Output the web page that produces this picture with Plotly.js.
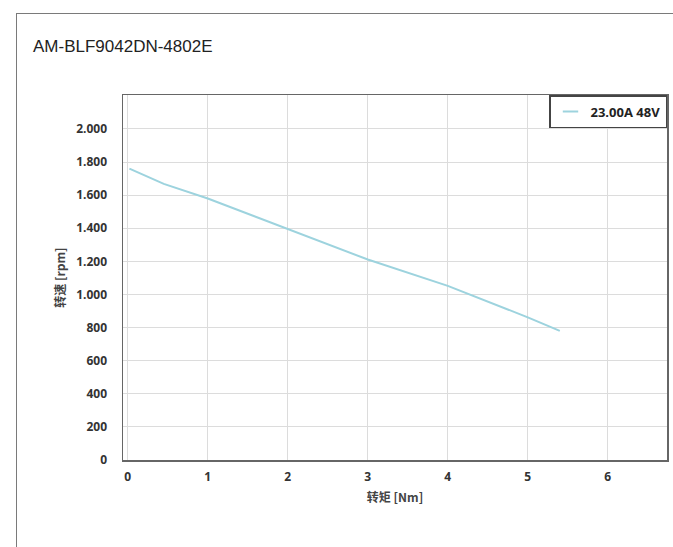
<!DOCTYPE html>
<html>
<head>
<meta charset="utf-8">
<script src="https://cdn.plot.ly/plotly-3.0.1.min.js"></script>
<style>
html,body{margin:0;padding:0;background:#fff;}
#frame{position:absolute;left:16px;top:13px;width:700px;height:600px;border-top:1.5px solid #7a7a7a;border-left:1.5px solid #7a7a7a;}
#chart{position:absolute;left:0;top:0;width:673px;height:547px;}
</style>
</head>
<body>
<div id="frame"></div>
<div id="chart"></div>
<script>
const chartTitle = "AM-BLF9042DN-4802E";
const seriesName = "23.00A 48V";
const torqueNm = [0.02, 0.45, 1, 2, 3, 4, 5, 5.4];
const speedRpm = [1760, 1668, 1580, 1396, 1211, 1052, 862, 780];
const yTickVals = [0, 200, 400, 600, 800, 1000, 1200, 1400, 1600, 1800, 2000];
const yTickText = ["0", "200", "400", "600", "800", "1.000", "1.200", "1.400", "1.600", "1.800", "2.000"];
const xTickVals = [0, 1, 2, 3, 4, 5, 6];

const lineColor = "#9dd3de";
const tickFont = {family: "Open Sans, DejaVu Sans, sans-serif", size: 12, color: "#333", weight: "bold"};
const titleFont = {family: "Noto Sans CJK SC, Open Sans, sans-serif", size: 12, color: "#444", weight: "bold"};

const traces = [
  {x: torqueNm, y: speedRpm, type: "scatter", mode: "lines", name: seriesName,
   line: {color: lineColor, width: 2}, showlegend: false},
  {x: [null], y: [null], type: "scatter", mode: "markers", name: seriesName, showlegend: true,
   marker: {symbol: "line-ew", size: 11, color: lineColor, line: {color: lineColor, width: 2}}}
];

const layout = {
  width: 673, height: 547,
  margin: {l: 123, r: 6, t: 95, b: 87},
  paper_bgcolor: "rgba(0,0,0,0)", plot_bgcolor: "#fff",
  title: {text: chartTitle, x: 33/673, xref: "container", xanchor: "left", y: 1 - 46/547, yref: "container", yanchor: "middle",
          font: {family: "Liberation Sans, Arial, sans-serif", size: 17, color: "#222"}},
  showlegend: true,
  legend: {x: 1, y: 1, xanchor: "right", yanchor: "top", bgcolor: "#fff", bordercolor: "#444", borderwidth: 1.5,
           font: {family: "Open Sans, DejaVu Sans, sans-serif", size: 13, color: "#222", weight: "bold"},
           itemwidth: 30, tracegroupgap: 0},
  xaxis: {
    range: [-0.06, 6.74], tickvals: xTickVals, ticktext: xTickVals.map(String),
    tickfont: tickFont, showgrid: true, gridcolor: "#dcdcdc", gridwidth: 1,
    zeroline: false, showline: true, linecolor: "#666", linewidth: 1.5, mirror: true,
    ticks: "outside", ticklen: 5, tickcolor: "rgba(0,0,0,0)",
    title: {text: "转矩 [Nm]", font: titleFont, standoff: 9}
  },
  yaxis: {
    range: [0, 2205], tickvals: yTickVals, ticktext: yTickText,
    tickfont: tickFont, showgrid: true, gridcolor: "#dcdcdc", gridwidth: 1,
    zeroline: false, showline: true, linecolor: "#666", linewidth: 1.5, mirror: true,
    ticks: "outside", ticklen: 12, tickcolor: "rgba(0,0,0,0)",
    title: {text: "转速 [rpm]", font: titleFont, standoff: 8}
  }
};

Plotly.newPlot("chart", traces, layout, {displayModeBar: false, staticPlot: true});
</script>
</body>
</html>
